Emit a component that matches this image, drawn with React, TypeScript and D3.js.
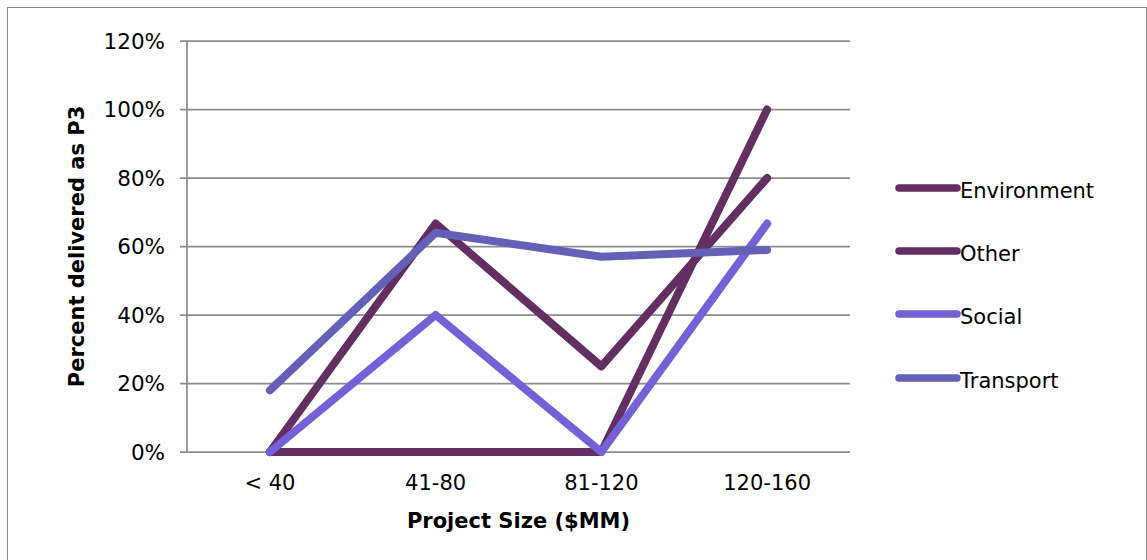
import React from "react";
import * as d3 from "d3";

const categories = ["< 40", "41-80", "81-120", "120-160"];
const environment = [0, 0, 0, 1.0];
const other = [0, 0.667, 0.25, 0.8];
const social = [0, 0.4, 0, 0.667];
const transport = [0.18, 0.64, 0.57, 0.59];
const yTicks = [0, 0.2, 0.4, 0.6, 0.8, 1.0, 1.2];
const seriesNames = ["Environment", "Other", "Social", "Transport"];
const seriesColors = ["#632e62", "#632e62", "#7660d8", "#6460b8"];

const W = 1147;
const H = 560;
const margin = { left: 187, right: 297, top: 41, bottom: 108 };
const FONT = "'DejaVu Sans', sans-serif";

export default function App() {
  const x = d3
    .scaleBand()
    .domain(categories)
    .range([margin.left, W - margin.right]);
  const y = d3
    .scaleLinear()
    .domain([0, 1.2])
    .range([H - margin.bottom, margin.top]);
  const seriesData = [environment, other, social, transport];
  const line = d3
    .line<number>()
    .x((_, i) => (x(categories[i]) as number) + x.bandwidth() / 2)
    .y((d) => y(d));
  const x0 = margin.left;
  const x1 = W - margin.right;
  const legendY = [188, 251, 314, 378];
  return (
    <svg
      width={W}
      height={H}
      style={{ position: "absolute", left: 0, top: 0, background: "#fff" }}
      fontFamily={FONT}
    >
      <rect x={7.5} y={7.5} width={W - 8} height={H} fill="#fff" stroke="#8c8c8c" strokeWidth={1} />
      {yTicks.map((t) => (
        <g key={t}>
          <line x1={x0 - 7} x2={x1} y1={y(t)} y2={y(t)} stroke="#8c8c8c" strokeWidth={1.75} />
          <text x={x0 - 22} y={y(t) + 7.5} textAnchor="end" fontSize={21.5} fill="#000">
            {Math.round(t * 100) + "%"}
          </text>
        </g>
      ))}
      <line x1={x0} x2={x0} y1={y(1.2)} y2={y(0)} stroke="#8c8c8c" strokeWidth={1.75} />
      {categories.map((c) => (
        <text
          key={c}
          x={(x(c) as number) + x.bandwidth() / 2}
          y={y(0) + 38}
          textAnchor="middle"
          fontSize={21}
          fill="#000"
        >
          {c}
        </text>
      ))}
      {seriesData.map((s, i) => (
        <path
          key={i}
          d={line(s) || ""}
          fill="none"
          stroke={seriesColors[i]}
          strokeWidth={8}
          strokeLinecap="round"
          strokeLinejoin="round"
        />
      ))}
      {seriesNames.map((n, i) => (
        <g key={n}>
          <line
            x1={899}
            x2={957}
            y1={legendY[i]}
            y2={legendY[i]}
            stroke={seriesColors[i]}
            strokeWidth={7.5}
            strokeLinecap="round"
          />
          <text x={960} y={legendY[i] + 10} fontSize={21} fill="#000">
            {n}
          </text>
        </g>
      ))}
      <text
        x={(x0 + x1) / 2}
        y={528}
        textAnchor="middle"
        fontSize={21}
        fontWeight="bold"
        fill="#000"
      >
        Project Size ($MM)
      </text>
      <text
        transform={`translate(84, ${(y(0) + y(1.2)) / 2}) rotate(-90)`}
        textAnchor="middle"
        fontSize={21}
        fontWeight="bold"
        fill="#000"
      >
        Percent delivered as P3
      </text>
    </svg>
  );
}
